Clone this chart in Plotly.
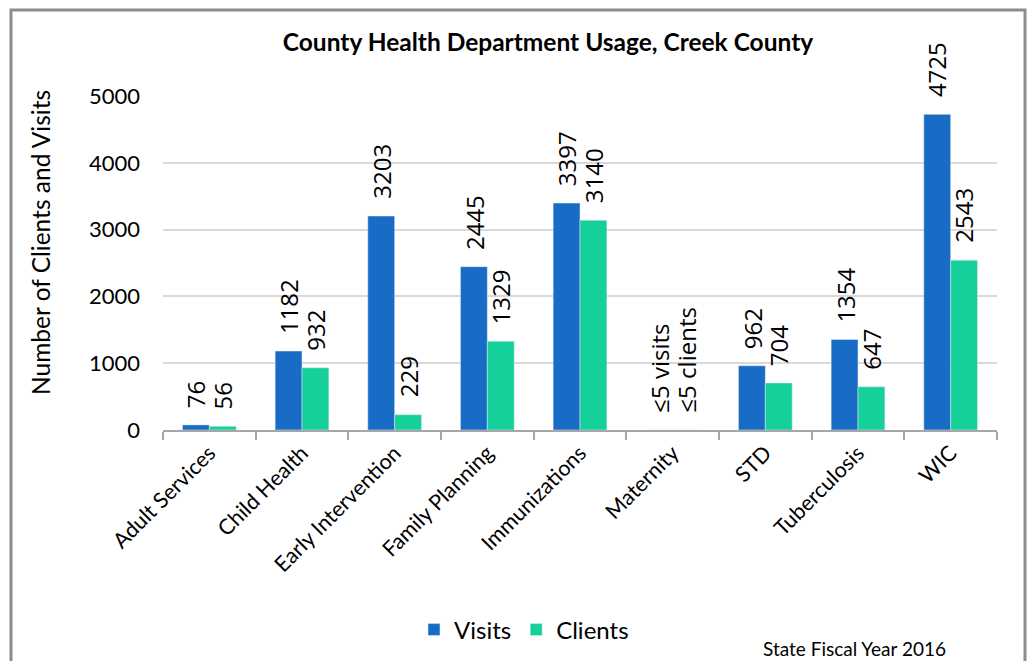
import plotly.graph_objects as go

categories = ["Adult Services", "Child Health", "Early Intervention", "Family Planning",
              "Immunizations", "Maternity", "STD", "Tuberculosis", "WIC"]
visits = [76, 1182, 3203, 2445, 3397, 0, 962, 1354, 4725]
clients = [56, 932, 229, 1329, 3140, 0, 704, 647, 2543]
visit_labels = ["76", "1182", "3203", "2445", "3397", "≤5 visits", "962", "1354", "4725"]
client_labels = ["56", "932", "229", "1329", "3140", "≤5 clients", "704", "647", "2543"]

BLUE = "#196CC6"
GREEN = "#16D09B"
FONT = "Lato"
LABEL_FONT = "Open Sans"

W, H = 1031, 661
L, R, T, B = 163, 34, 96, 231
pw, ph = W - L - R, H - T - B
bargap = 0.42
half = (1 - bargap) / 4  # center offset of each bar in category units

def px(x):
    return (x - L) / pw

def py(y):
    return (H - B - y) / ph

fig = go.Figure()
fig.add_trace(go.Bar(x=categories, y=visits, name="Visits", marker_color=BLUE))
fig.add_trace(go.Bar(x=categories, y=clients, name="Clients", marker_color=GREEN))

annotations = []
for i, (v, c) in enumerate(zip(visits, clients)):
    for val, lab, off in ((v, visit_labels[i], -half), (c, client_labels[i], half)):
        annotations.append(dict(
            x=i + off, y=val, xref="x", yref="y", text=lab, showarrow=False,
            textangle=-90, xanchor="center", yanchor="bottom", yshift=15,
            font=dict(family=LABEL_FONT, size=24, color="#000000")))

annotations.append(dict(
    x=px(40), y=py(243), xref="paper", yref="paper",
    text="Number of Clients and Visits", showarrow=False, textangle=-90,
    xanchor="center", yanchor="middle", font=dict(family=FONT, size=24.5, color="#000")))
annotations.append(dict(
    x=px(854), y=py(648), xref="paper", yref="paper", text="State Fiscal Year 2016",
    showarrow=False, xanchor="center", yanchor="middle",
    font=dict(family=FONT, size=19, color="#000")))

fig.update_layout(
    width=W, height=H,
    margin=dict(l=L, r=R, t=T, b=B, autoexpand=False),
    paper_bgcolor="white", plot_bgcolor="white",
    barmode="group", bargap=bargap, bargroupgap=0,
    title=dict(text="<b>County Health Department Usage, Creek County</b>",
               x=px(548), xref="paper", xanchor="center",
               y=1 - 42 / H, yanchor="middle",
               font=dict(family=FONT, size=24.5, color="#000")),
    legend=dict(orientation="h", x=px(524), y=py(630), xanchor="center", yanchor="middle",
                font=dict(family=FONT, size=24, color="#000"), itemwidth=30,
                traceorder="normal"),
    annotations=annotations,
    shapes=[dict(type="rect", xref="paper", yref="paper",
                 x0=px(11), x1=px(1025), y0=py(700), y1=py(10),
                 line=dict(color="#8C8C8C", width=3), fillcolor="rgba(0,0,0,0)", layer="above")],
    font=dict(family=FONT, color="#000"),
)
fig.update_xaxes(type="category", showline=True, linecolor="#A6A6A6", linewidth=2,
                 ticks="outside", tickson="boundaries", ticklen=8, tickcolor="#A6A6A6",
                 tickwidth=2, tickangle=-45, showgrid=False,
                 tickfont=dict(family=FONT, size=21.5, color="#000"))
fig.update_yaxes(range=[0, 5000], dtick=1000, showgrid=True, gridcolor="#D9D9D9",
                 gridwidth=2, zeroline=False, showline=False, ticks="",
                 ticklabelstandoff=22, tickfont=dict(family=FONT, size=22, color="#000"))

fig.write_html("out.html", config={"displayModeBar": False},
               post_script="document.body.style.margin='0px';document.body.style.overflow='hidden';")
